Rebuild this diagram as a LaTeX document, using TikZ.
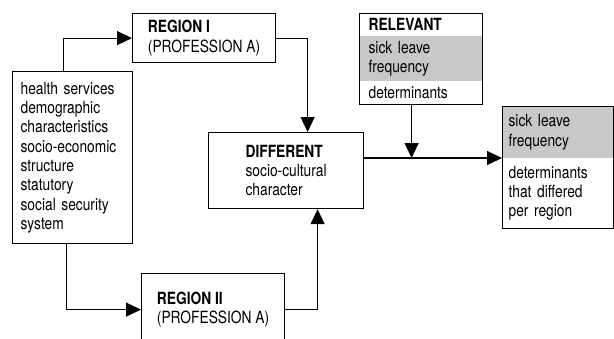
\documentclass[tikz,border=0pt]{standalone}
\usepackage{fontspec}
\setmainfont{TeX Gyre Heros}[FakeStretch=0.82]
\usetikzlibrary{arrows.meta,positioning,shapes.multipart}
\definecolor{bandgray}{HTML}{C8C8C8}
\tikzset{
  box/.style={draw=black,line width=1.2pt,align=left,inner sep=0pt,font={\fontsize{16.8}{19.3}\selectfont}},
  splitbox/.style={box,rectangle split,rectangle split parts=#1,rectangle split draw splits=false},
  flow/.style={-{Triangle[length=15pt,width=14pt]},line width=1.2pt},
}

\begin{document}
\begin{tikzpicture}[x=1pt,y=-1pt]
\useasboundingbox (0,0) rectangle (614,338);
			\node[box,anchor=north west,text width=104pt,inner xsep=8pt,minimum height=172pt] (factors) at (12,71) {health services\\demographic\\characteristics\\socio-economic\\structure\\statutory\\social security\\system};
			\node[box,anchor=north west,minimum width=143pt,minimum height=49pt] (regI) at (132,13) {\textbf{REGION I}\\(PROFESSION A)};
			\node[box,anchor=north west,minimum width=143pt,minimum height=72pt] (regII) at (141,273) {\textbf{REGION II}\\(PROFESSION A)};
			\node[box,anchor=north west,minimum width=155pt,minimum height=76pt] (diff) at (208,132) {\textbf{DIFFERENT}\\socio-cultural\\character};
			\node[splitbox=3,rectangle split part fill={white,bandgray,white},text width=105pt,inner xsep=9pt,inner ysep=4.5pt,anchor=north west] (relevant) at (359,13) {\textbf{RELEVANT}\nodepart{two}sick leave\\frequency\nodepart{three}determinants};
			\node[splitbox=2,rectangle split part fill={bandgray,white},text width=99pt,inner xsep=6pt,inner ysep=7.5pt,anchor=north west] (outcome) at (502,106) {sick leave\\frequency\nodepart{two}determinants\\that differed\\per region};
			\coordinate (jn) at ([xshift=-9.5pt]relevant.south |- outcome.text split west);
			\draw[flow] ([xshift=-9pt]factors.north) |- (regI.west);
			\draw[flow] ([xshift=-6pt]factors.south) |- (regII.west);
			\draw[flow] (regI.east) -| ([xshift=21.5pt]diff.north);
			\draw[flow] (regII.east) -| ([xshift=31.5pt]diff.south);
			\draw[flow] ([xshift=-9.5pt]relevant.south) -- (jn);
			\draw[flow] (diff.east |- outcome.text split west) -- (outcome.text split west);
\end{tikzpicture}
\end{document}
